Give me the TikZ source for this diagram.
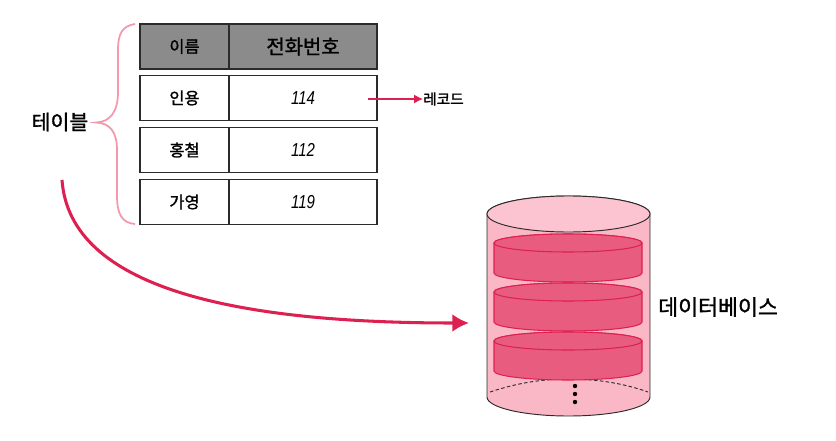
\documentclass[tikz,border=0pt]{standalone}
\usepackage{fontspec}
\setmainfont[RawFeature={embolden=1.4}]{Noto Sans CJK KR}
\newfontfamily\numfont[FakeStretch=0.8]{Liberation Sans}
\usetikzlibrary{arrows.meta,calc,positioning}
\definecolor{headgray}{RGB}{140,139,140}
\definecolor{linkred}{RGB}{222,32,80}
\definecolor{bracepink}{RGB}{246,152,172}
\definecolor{cylpink}{RGB}{250,184,198}
\definecolor{toppink}{RGB}{252,196,208}
\definecolor{diskred}{RGB}{232,92,128}
\definecolor{darkline}{RGB}{45,42,44}
\tikzset{
  cell/.style={draw=darkline, line width=0.9pt, fill=white, inner sep=0pt,
    minimum height=13.3mm, font=\fontsize{14}{16}\selectfont},
  namecell/.style={cell, minimum width=26.7mm},
  phonecell/.style={cell, minimum width=44.4mm},
  headname/.style={namecell, fill=headgray, minimum height=13.5mm},
  headphone/.style={phonecell, fill=headgray, minimum height=13.5mm,
    font=\fontsize{17}{19}\selectfont},
  numcell/.style={phonecell, font=\fontsize{16}{18}\selectfont\numfont\itshape},
  bigtext/.style={font=\fontsize{17.5}{20}\selectfont, inner sep=0pt},
  smalltext/.style={font=\fontsize{12.5}{14}\selectfont, inner sep=0pt},
  link/.style={linkred, line width=2.6pt, -{Latex[length=5mm,width=5.4mm]}},
  thinlink/.style={linkred, line width=1pt, -{Latex[length=2.7mm,width=2.7mm]}}
}
\newcommand{\disk}[1]{%
  \begin{scope}[shift={(568,#1)}]
    \draw[fill=diskred,draw=linkred,line width=0.9pt]
      (-74,0) -- (-74,30) arc[start angle=180,end angle=0,x radius=74,y radius=9]
      -- (74,0) arc[start angle=0,end angle=-180,x radius=74,y radius=9];
    \draw[fill=diskred,draw=linkred,line width=0.9pt] (0,0) ellipse (74 and 9);
  \end{scope}
}
\begin{document}
\begin{tikzpicture}[x=0.3mm,y=-0.3mm]
  \useasboundingbox (0,0) rectangle (836,440);

  % Table
  \node[headname] (namehead) at (184.5,46.5) {이름};
  \node[headphone] (phonehead) at (303,46.5) {전화번호};
  \node[namecell] (name1) at (184.5,98) {인용};
  \node[numcell] (phone1) at (303,98) {114};
  \node[namecell] (name2) at (184.5,150) {홍철};
  \node[numcell] (phone2) at (303,150) {112};
  \node[namecell] (name3) at (184.5,202) {가영};
  \node[numcell] (phone3) at (303,202) {119};

  % Record label
  \coordinate (recstart) at (368,99);
  \node[smalltext,anchor=west] (record) at (423,99) {레코드};
  \draw[thinlink] (recstart) -- (record.west);

  % Brace and table label
  \draw[bracepink,line width=1.5pt]
    (135,24) .. controls (122,26) and (118,34) .. (118,50)
    -- (118,92) .. controls (118,112) and (110,122) .. (96,122.5)
    .. controls (110,123) and (117,132) .. (117,150)
    -- (117,196) .. controls (117,214) and (122,223) .. (135,224);
  \node[bigtext] (tablelabel) at (60,122) {테이블};

  % Cylinder
  \draw[fill=cylpink,draw=darkline,line width=0.8pt]
    (487,214) -- (487,397) arc[start angle=180,end angle=0,x radius=81.5,y radius=19]
    -- (650,214) arc[start angle=0,end angle=-180,x radius=81.5,y radius=18];
  \draw[fill=toppink,draw=darkline,line width=0.8pt] (568.5,214) ellipse (81.5 and 18);
  \draw[darkline,line width=0.8pt,densely dashed]
    (490,392) .. controls (520,382) and (545,379) .. (568.5,379)
    .. controls (592,379) and (620,382) .. (648,392);
  \disk{243}
  \disk{292}
  \disk{341}
  \foreach \y in {386,394,402}{
    \fill[black] (575,\y) circle (2.2);
  }
  \node[bigtext,anchor=west,font=\fontsize{18.5}{20}\selectfont] (dblabel) at (658,307) {데이터베이스};

  % Curved arrow to the cylinder
  \coordinate (curvestart) at (62,180);
  \coordinate (curveend) at (469,323);
  \draw[link] (curvestart) .. controls (70,290) and (240,323) .. (curveend);
\end{tikzpicture}
\end{document}
